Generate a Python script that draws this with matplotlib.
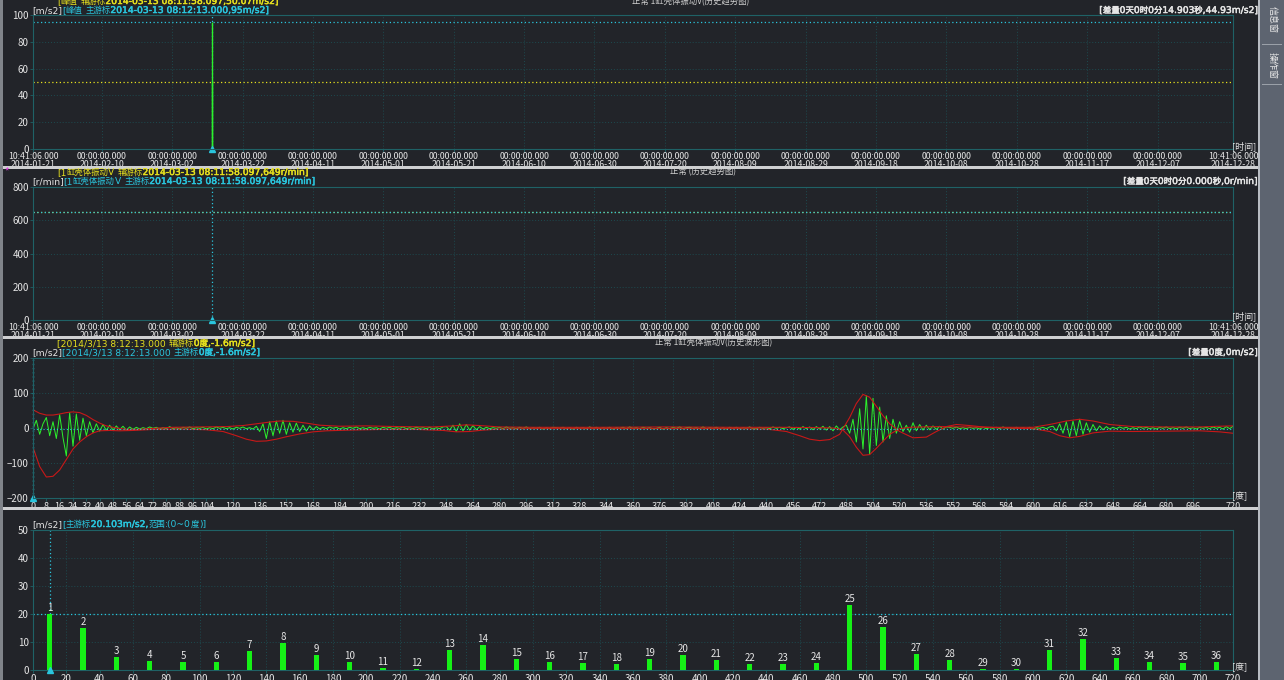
import numpy as np
import pandas as pd
import matplotlib
matplotlib.use('Agg')
import matplotlib.pyplot as plt
import matplotlib.dates as mdates
import matplotlib.patheffects as pe
from matplotlib.patches import Rectangle

plt.rcParams['font.family'] = ['Liberation Sans Narrow', 'Noto Sans CJK SC', 'DejaVu Sans']

# ---- trend panels (time axis) ----
trend_start = '2014-01-21 10:41:06'
trend_end = '2014-12-28 10:41:06'
trend_ticks = ['2014-01-21 10:41:06', '2014-02-10', '2014-03-02', '2014-03-22', '2014-04-11',
               '2014-05-01', '2014-05-21', '2014-06-10', '2014-06-30', '2014-07-20',
               '2014-08-09', '2014-08-29', '2014-09-18', '2014-10-08', '2014-10-28',
               '2014-11-17', '2014-12-07', '2014-12-28 10:41:06']
trend_times = ['2014-03-13 08:11:58.097', '2014-03-13 08:12:13.000']
trend_values = [50.07, 95.0]
main_cursor_time = '2014-03-13 08:12:13.000'
main_cursor_val = 95.0
aux_cursor_val = 50.07
speed_cursor_time = '2014-03-13 08:11:58.097'
speed_cursor_val = 649

# ---- waveform panel (degrees) ----
wave_vals = [
    -2, 22, -18, 12, 30, -22, 18, -30, 38, -28, -80, 44, -52, 40, -35, 28, -22, 18, -14, 12, -9,
    10, -7, 8, -6, 6, -5, 5, -6, 3, -4,
    2, -3, 1, -2, 3, -1, 2, -3, 1, -2, 4, -2, 1, -3, 2, -1, 3, -2, 1, -1,
    2, -3, 1, -2, 3, -1, 2, -2, 1, -3, 2, -1, 3, -2, 1,
    -3, 5, -10, 12, -30, 18, -22, 20, -15, 22, -18, 15, -12, 14, -10, 8, -9, 6, -5, 4, -3,
    2, -2, 3, -1, 2, -3, 1, -2, 2, -1, 3, -2, 1, -2, 2, -1, 1, -3, 2, -1,
    2, -2, 1, -1, 3, -2, 1, -2, 2, -1, 1, -2, 2, -3, 1, -2, 3,
    4, -6, 8, -10, 12, -8, 10, -6, 7, -5, 4, -3, 2,
    -2, 1, -1, 2, -2, 3, -1, 1, -2, 2,
    -1, 3, -2, 1, -1, 2, -3, 1, -2, 2,
    1, -1, 2, -2, 1, -3, 2, -1, 1, -2,
    3, -1, 2, -2, 1, -1, 2, -3, 1, -1,
    2, -2, 3, -1, 1, -2, 2, -1, 1, -2,
    -1, 2, -3, 1, -2, 2, -1, 3, -2, 1,
    2, -1, 1, -2, 3, -2, 1, -1, 2, -2,
    1, -3, 2, -1, 2, -2, 1, -1, 3, -2,
    -2, 2, -1, 1, -2, 3, -1, 2, -2, 1,
    3, -4, 2, -3, 4, -2, 3, -5, 4, -3,
    5, -6, 4, -8, 6, -5, 3,
    8, -15, 25, -40, 55, -60, 92, -75, 85, -50, 60, -40, 35, -30, 25, -15, 18, -10, 8,
    -12, 15, -8, 10, -6, 8, -5, 6, -4, 5, -3, 3,
    2, -1, 3, -2, 1, -2, 2, -1, 1, -3, 2, -2, 1, -1, 2, -2, 3, -1, 1, -2,
    2, -1, 1, -2, 2, -3, 1, -1, 2, -2, 3,
    5, -8, 12, -15, 18, -25, 20, -22, 25, -18, 15, -12, 10, -8, 6, -5, 4,
    -3, 2, -2, 3, -1, 2, -3, 1, -2, 3, -1, 2, -2, 1, -3, 2, -1, 3, -2, 1,
    -2, 2, -1, 3, -2, 1, -3, 2, -1, 2, -2, 3, -1, 2, -3, 4, -2, 5,
]
wave_deg = np.arange(0, 721, 2)

env_a_deg = [0, 4, 8, 12, 16, 20, 24, 28, 32, 36, 40, 44, 50, 56, 64, 72, 84, 100, 116, 126,
             134, 142, 148, 156, 164, 172, 184, 200, 220, 240, 252, 260, 268, 280, 300, 340, 380, 420, 450, 470,
             480, 486, 490, 494, 498, 502, 506, 510, 514, 520, 526, 534, 544, 560, 580, 600, 610, 620, 628, 636,
             646, 660, 680, 700, 712, 720]
env_a_val = [52, 42, 37, 37, 40, 44, 46, 44, 36, 24, 14, 6, 0, -4, -4, -1, 2, 3, 4, 7,
             12, 17, 20, 19, 14, 8, 5, 6, 4, 3, 6, 9, 7, 3, 2, 2, 3, 2, 2, 1,
             0, -6, -25, -55, -78, -76, -58, -38, -18, -2, 2, 3, 4, 3, 2, 2, 10, 20, 25, 20,
             10, 4, 3, 3, 5, 6]
env_b_deg = [0, 4, 8, 12, 16, 20, 24, 28, 32, 36, 40, 46, 52, 60, 72, 90, 104, 114, 122, 128,
             134, 140, 146, 152, 160, 168, 176, 190, 210, 230, 246, 254, 262, 270, 280, 300, 340, 380, 420, 440,
             452, 460, 466, 472, 478, 484, 490, 494, 498, 502, 506, 510, 514, 520, 528, 536, 542, 548, 554, 562,
             572, 590, 600, 610, 616, 622, 628, 636, 646, 660, 680, 700, 712, 720]
env_b_val = [-55, -110, -140, -138, -120, -90, -60, -40, -25, -14, -8, -7, -8, -7, -4, -3, -5, -10, -22, -32,
             -38, -37, -32, -25, -17, -11, -8, -6, -4, -4, -7, -11, -10, -6, -3, -2, -2, -2, -2, -3,
             -10, -22, -32, -36, -33, -18, 30, 70, 96, 88, 62, 35, 12, -10, -28, -26, -10, 4, 10, 7,
             2, -1, -2, -10, -22, -28, -24, -14, -9, -10, -9, -8, -11, -15]
wave_ticks = list(range(0, 105, 8)) + list(range(120, 697, 16)) + [720]

# ---- order spectrum panel ----
order_deg = np.arange(10, 720, 20)
order_vals = [20.103, 15.1, 4.6, 3.2, 2.9, 2.8, 6.8, 9.6, 5.4, 2.9, 0.7, 0.3,
              7.2, 8.8, 3.9, 2.9, 2.5, 2.1, 3.9, 5.3, 3.5, 2.1, 2.0, 2.5,
              23.3, 15.3, 5.6, 3.5, 0.4, 0.2, 7.1, 11.2, 4.2, 2.8, 2.5, 2.8]
order_labels = [str(i) for i in range(1, 37)]

BG = '#222429'
FRAME = '#1f6266'
GRID = '#1d4a4f'
TXT = '#e6e6e6'
CYAN = '#2ac6de'
YELLOW = '#e6e01e'
GREEN = '#2cf22c'
RED = '#c81818'

W, H = 1284, 680
fig = plt.figure(figsize=(W / 100, H / 100), dpi=100, facecolor=BG)
renderer = fig.canvas.get_renderer()


def add_panel(top, bottom):
    ax = fig.add_axes([33 / W, 1 - bottom / H, 1200 / W, (bottom - top) / H])
    ax.set_facecolor(BG)
    for s in ax.spines.values():
        s.set_color(FRAME)
        s.set_linewidth(0.8)
    ax.tick_params(colors=FRAME, labelcolor=TXT, labelsize=7, length=2, width=0.6, pad=1)
    ax.grid(True, axis='y', color=GRID, linestyle=(0, (1, 2)), linewidth=0.7)
    return ax


def vgrid(ax, xs):
    for x in xs:
        ax.axvline(x, color=GRID, linestyle=(0, (1, 2)), linewidth=0.7, zorder=0)


def split_script(s):
    # split a string into runs of CJK / non-CJK characters
    out, cur, prev = [], '', None
    for ch in s:
        cj = ord(ch) > 0x2E80
        if prev is not None and cj != prev:
            out.append((cur, prev))
            cur = ''
        cur += ch
        prev = cj
    if cur:
        out.append((cur, prev))
    return out


def chain(x_px, y_px, parts, size=6.6, align='left'):
    x = x_px
    texts = []
    for s, color, bold in parts:
        for run, cj in split_script(s):
            fam = ['Noto Sans CJK SC'] if cj else ['Liberation Sans Narrow']
            t = fig.text(x / W, 1 - (y_px + 3) / H, run, color=color, fontsize=size * (0.92 if cj else 1),
                         family=fam, ha='left', va='baseline')
            if bold:
                # no bold narrow face installed: thicken strokes instead
                t.set_path_effects([pe.withStroke(linewidth=0.35, foreground=color)])
            x = t.get_window_extent(renderer).x1
            texts.append(t)
    if align == 'right':
        shift = x_px - x
        for t in texts:
            t.set_x(t.get_position()[0] + shift / W)


def ctitle(x_px, y_px, s):
    fig.text(x_px / W, 1 - y_px / H, s, color='#d0d0d0', fontsize=6, ha='left', va='center')


def to_num(ts):
    return mdates.date2num(pd.Timestamp(ts).to_pydatetime())


tick_nums = [to_num(t) for t in trend_ticks]
tick_labs = [pd.Timestamp(t).strftime('%H:%M:%S') + '.000\n' + pd.Timestamp(t).strftime('%Y-%m-%d')
             for t in trend_ticks]


def time_axis(ax):
    ax.set_xlim(to_num(trend_start), to_num(trend_end))
    ax.set_xticks(tick_nums)
    ax.set_xticklabels(tick_labs, fontsize=6.3, linespacing=0.72)
    ax.tick_params(axis='x', pad=0.5)
    vgrid(ax, tick_nums[1:-1])


# panel 1: peak trend
ax1 = add_panel(15, 149)
time_axis(ax1)
ax1.set_ylim(0, 100)
ax1.set_yticks(range(0, 101, 20))
tn = [to_num(t) for t in trend_times]
ax1.axhline(aux_cursor_val, color=YELLOW, linestyle=(0, (1, 2)), linewidth=0.9)
ax1.axhline(main_cursor_val, color=CYAN, linestyle=(0, (1, 2)), linewidth=0.9)
ax1.axvline(to_num(main_cursor_time), color=CYAN, linestyle=(0, (1, 2)), linewidth=0.9)
ax1.vlines(tn, 0, trend_values, color=GREEN, linewidth=1.0)
ax1.plot([to_num(main_cursor_time)], [0], marker='^', color=CYAN, markersize=4, clip_on=False)

# panel 2: speed trend
ax2 = add_panel(187, 320)
time_axis(ax2)
ax2.set_ylim(0, 800)
ax2.set_yticks(range(0, 801, 200))
ax2.axhline(speed_cursor_val, color=YELLOW, linestyle=(0, (1, 2)), linewidth=0.9)
ax2.axhline(speed_cursor_val, color=CYAN, linestyle=(0, (1, 2)), linewidth=0.9)
ax2.axvline(to_num(speed_cursor_time), color=CYAN, linestyle=(0, (1, 2)), linewidth=0.9)
ax2.plot([to_num(speed_cursor_time)], [0], marker='^', color=CYAN, markersize=4, clip_on=False)

# panel 3: waveform
ax3 = add_panel(358, 498)
ax3.set_xlim(0, 720)
ax3.set_ylim(-200, 200)
ax3.set_yticks(range(-200, 201, 100))
ax3.set_xticks(wave_ticks)
ax3.tick_params(axis='x', labelsize=6.5)
vgrid(ax3, range(24, 720, 24))
ax3.plot(wave_deg, wave_vals, color=GREEN, linewidth=0.7)
ax3.plot(env_a_deg, env_a_val, color=RED, linewidth=0.8)
ax3.plot(env_b_deg, env_b_val, color=RED, linewidth=0.8)
ax3.axhline(-1.6, color=CYAN, linestyle=(0, (1, 2)), linewidth=0.8)
ax3.axvline(0, color=CYAN, linestyle=(0, (1, 2)), linewidth=1.0, clip_on=False)
ax3.plot([0], [-200], marker='^', color=CYAN, markersize=4, clip_on=False)

# panel 4: order spectrum
ax4 = add_panel(530, 670)
ax4.set_xlim(0, 720)
ax4.set_ylim(0, 50)
ax4.set_yticks(range(0, 51, 10))
ax4.set_xticks(range(0, 721, 20))
vgrid(ax4, range(20, 720, 40))
ax4.bar(order_deg, order_vals, width=3.2, color='#16f016', zorder=3)
for x, v, lab in zip(order_deg, order_vals, order_labels):
    ax4.text(x, v + 0.4, lab, color=TXT, fontsize=7, ha='center', va='bottom', zorder=4)
ax4.axhline(order_vals[0], color=CYAN, linestyle=(0, (1, 2)), linewidth=0.9, zorder=2)
ax4.axvline(order_deg[0], color=CYAN, linestyle=(0, (1, 2)), linewidth=0.9, zorder=2)
ax4.plot([order_deg[0]], [0], marker='^', color=CYAN, markersize=4, clip_on=False, zorder=5)

# unit labels at axis ends
for ypx, s in [(146, '[时间]'), (316, '[时间]'), (496, '[度]'), (667, '[度]')]:
    fig.text(1232 / W, 1 - ypx / H, s, color=TXT, fontsize=6.5, ha='left', va='center',
             family=['Noto Sans CJK SC'])

# cursor readouts
ctitle(632, 2, '正常 1缸壳体振动V(历史趋势图)')
chain(57, 1, [('[峰值 辅游标', YELLOW, False), ('2014-03-13 08:11:58.097,50.07m/s2]', YELLOW, True)])
chain(32, 10, [('[m/s2]', TXT, False), ('[峰值 主游标', CYAN, False),
               ('2014-03-13 08:12:13.000,95m/s2]', CYAN, True)])
chain(1258, 10, [('[差量0天0时0分14.903秒,44.93m/s2]', TXT, True)], align='right')

fig.text(4 / W, 1 - 172 / H, '*', color='#e040e0', fontsize=7, ha='left', va='center')
ctitle(670, 172, '正常 (历史趋势图)')
chain(57, 172, [('[1缸壳体振动V 辅游标', YELLOW, False),
                ('2014-03-13 08:11:58.097,649r/min]', YELLOW, True)])
chain(32, 181, [('[r/min]', TXT, False), ('[1缸壳体振动V 主游标', CYAN, False),
                ('2014-03-13 08:11:58.097,649r/min]', CYAN, True)])
chain(1258, 181, [('[差量0天0时0分0.000秒,0r/min]', TXT, True)], align='right')

ctitle(655, 343, '正常 1缸壳体振动V(历史波形图)')
chain(57, 343, [('[2014/3/13 8:12:13.000 辅游标', YELLOW, False), ('0度,-1.6m/s2]', YELLOW, True)])
chain(32, 352, [('[m/s2]', TXT, False), ('[2014/3/13 8:12:13.000 主游标', CYAN, False),
                ('0度,-1.6m/s2]', CYAN, True)])
chain(1258, 352, [('[差量0度,0m/s2]', TXT, True)], align='right')

chain(32, 524, [('[m/s2]', TXT, False), ('[主游标', CYAN, False), ('20.103m/s2,', CYAN, True),
                ('范围:(0~0度)]', CYAN, False)])

# panel separators, borders and side bar
for y0 in [166, 336, 507]:
    fig.patches.append(Rectangle((0, 1 - (y0 + 3) / H), 1259 / W, 3 / H, transform=fig.transFigure,
                                 facecolor='#cfd0d2', edgecolor='none'))
fig.patches.append(Rectangle((0, 0), 3 / W, 1, transform=fig.transFigure, facecolor='#80848a',
                             edgecolor='none'))
fig.patches.append(Rectangle((1259 / W, 0), 25 / W, 1, transform=fig.transFigure, facecolor='#5d6470',
                             edgecolor='none'))
fig.patches.append(Rectangle((1258 / W, 0), 1.5 / W, 1, transform=fig.transFigure, facecolor='#b8bcc2',
                             edgecolor='none'))
for ypx in [45, 85]:
    fig.patches.append(Rectangle((1262 / W, 1 - ypx / H), 20 / W, 1 / H, transform=fig.transFigure,
                                 facecolor='#9aa0a8', edgecolor='none'))
fig.text(1272 / W, 1 - 20 / H, '信息窗', color='#e8e8e8', fontsize=6.5, rotation=-90, ha='center',
         va='center', family=['Noto Sans CJK SC'])
fig.text(1272 / W, 1 - 66 / H, '操作窗', color='#e8e8e8', fontsize=6.5, rotation=-90, ha='center',
         va='center', family=['Noto Sans CJK SC'])

fig.savefig('out.png', dpi=100, facecolor=BG)
